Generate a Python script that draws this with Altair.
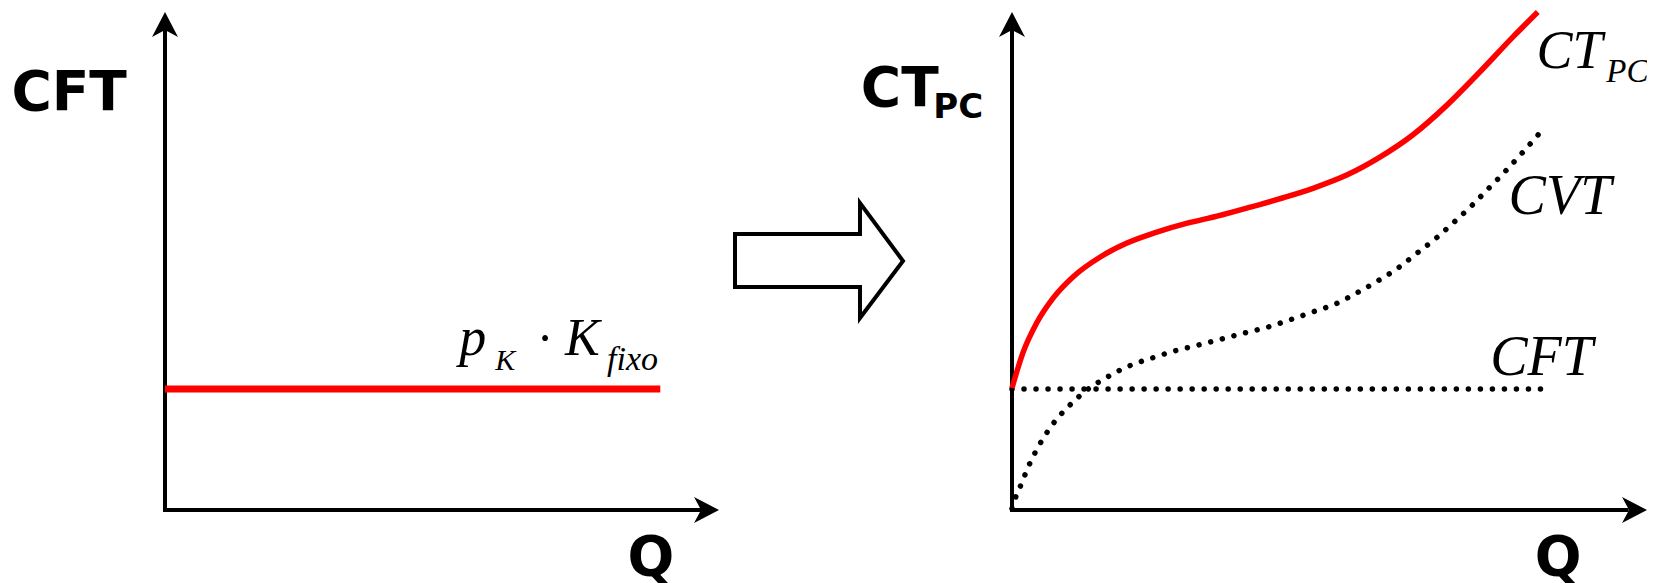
import altair as alt
import pandas as pd

# ---------------- data (diagram units: Q and cost, 0-100 along each drawn axis) ----------------
# left panel: fixed total cost  CFT = p_K * K_fixo
left_cft_q = [0, 89.4]
left_cft_c = [24.3, 24.3]

# right panel: CFT (dotted), CVT (dotted), CT_PC (red)
right_cft_q = [0, 83.5]
right_cft_c = [24.3, 24.3]

cvt_q = [0, 0.47, 1.26, 2.68, 4.41, 6.46, 8.98, 11.8, 15.0, 18.4, 22.0, 25.5, 29.3, 32.9,
         36.5, 40.2, 43.8, 47.4, 51.0, 54.3, 57.6, 60.8, 63.8, 66.8, 69.6, 72.3, 75.0,
         77.6, 80.2, 82.9]
cvt_c = [0.3, 2.2, 4.6, 9.0, 13.3, 17.3, 20.9, 24.1, 26.7, 28.9, 30.5, 31.9, 33.1, 34.3,
         35.5, 36.7, 38.2, 39.8, 41.4, 43.6, 46.0, 48.6, 51.6, 54.6, 57.8, 61.0, 64.5,
         67.9, 71.5, 75.4]

ct_q = [0, 1.7, 3.9, 6.5, 9.6, 13.9, 18.1, 22.8, 27.6, 32.3, 37.5, 42.7, 47.4, 52.8,
        58.0, 63.1, 68.5, 73.7, 78.9, 82.8]
ct_c = [24.5, 31.5, 37.6, 42.6, 46.8, 50.8, 53.6, 55.8, 57.6, 59.0, 60.8, 62.7, 64.6,
        67.3, 70.9, 75.3, 81.3, 88.0, 95.0, 100.0]

# block arrow between the panels (outline, in its own 0-100 units)
arrow_x = [0, 74.4, 74.4, 100, 74.4, 74.4, 0, 0]
arrow_y = [73, 73, 100, 49.6, 0, 27, 27, 73]

# axis extents (0-100) for each panel
axis_end = 100
axis_shaft = 96.8

# labels
left_bold_text = ["CFT", "Q"]
left_bold_q = [-17.3, 87.7]
left_bold_c = [80.3, -13.1]

right_bold_text = ["CT", "PC", "Q"]
right_bold_q = [-23.8, -12.4, 86.0]
right_bold_c = [81.1, 78.7, -13.1]

formula_text = ["p", "K", "·", "K", "fixo"]
formula_q = [53.1, 59.6, 68.6, 72.2, 79.8]
formula_c = [31.1, 28.1, 31.1, 31.1, 28.1]

right_it_text = ["CT", "PC", "CVT", "CFT"]
right_it_q = [82.6, 93.6, 78.2, 75.3]
right_it_c = [88.8, 85.9, 59.5, 27.1]

# ---------------- scales: each panel maps its units onto its area of the page ----------------
lx = alt.Scale(domain=[0, 100], range=[157, 711], zero=False, nice=False)
ly = alt.Scale(domain=[0, 100], range=[502, 4], zero=False, nice=False)
rx = alt.Scale(domain=[0, 100], range=[1004, 1639], zero=False, nice=False)
ry = alt.Scale(domain=[0, 100], range=[502, 4], zero=False, nice=False)
ax = alt.Scale(domain=[0, 100], range=[727, 895], zero=False, nice=False)
ay = alt.Scale(domain=[0, 100], range=[310, 195], zero=False, nice=False)

UP = "M0,0 L1,1.92 L0,1.38 L-1,1.92 Z"
RIGHT = "M0,0 L-1.92,-1 L-1.38,0 L-1.92,1 Z"
BOLD = "DejaVu Sans"
SERIF = "Liberation Serif"


def axes(sx, sy):
    v = alt.Chart(pd.DataFrame({"q": [0], "c": [0], "c2": [axis_shaft]})).mark_rule(
        color="black", strokeWidth=4, strokeCap="square").encode(
        x=alt.X("q:Q", scale=sx, axis=None),
        y=alt.Y("c:Q", scale=sy, axis=None), y2="c2:Q")
    h = alt.Chart(pd.DataFrame({"q": [0], "q2": [axis_shaft], "c": [0]})).mark_rule(
        color="black", strokeWidth=4, strokeCap="square").encode(
        x=alt.X("q:Q", scale=sx, axis=None), x2="q2:Q",
        y=alt.Y("c:Q", scale=sy, axis=None))
    up = alt.Chart(pd.DataFrame({"q": [0], "c": [axis_end]})).mark_point(
        shape=UP, size=676, filled=True, color="black", opacity=1, strokeWidth=0).encode(
        x=alt.X("q:Q", scale=sx, axis=None), y=alt.Y("c:Q", scale=sy, axis=None))
    rt = alt.Chart(pd.DataFrame({"q": [axis_end], "c": [0]})).mark_point(
        shape=RIGHT, size=676, filled=True, color="black", opacity=1, strokeWidth=0).encode(
        x=alt.X("q:Q", scale=sx, axis=None), y=alt.Y("c:Q", scale=sy, axis=None))
    return [v, h, up, rt]


def texts(sx, sy, txt, qs, cs, sizes, font, weight="normal", style="normal", align="left"):
    out = []
    for t, q, c, s in zip(txt, qs, cs, sizes):
        out.append(alt.Chart(pd.DataFrame({"q": [q], "c": [c], "t": [t]})).mark_text(
            font=font, fontSize=s, fontWeight=weight, fontStyle=style, align=align,
            baseline="alphabetic", color="black").encode(
            x=alt.X("q:Q", scale=sx, axis=None), y=alt.Y("c:Q", scale=sy, axis=None),
            text="t:N"))
    return out


def line(sx, sy, qs, cs, **kw):
    df = pd.DataFrame({"q": qs, "c": cs, "o": list(range(len(qs)))})
    return alt.Chart(df).mark_line(**kw).encode(
        x=alt.X("q:Q", scale=sx, axis=None), y=alt.Y("c:Q", scale=sy, axis=None),
        order="o:Q")


# ---------------- left panel ----------------
left = alt.layer(
    *axes(lx, ly),
    line(lx, ly, left_cft_q, left_cft_c, color="#ff0000", strokeWidth=7, strokeCap="butt"),
    *texts(lx, ly, left_bold_text, left_bold_q, left_bold_c, [55, 55], BOLD, weight="bold",
           align="center"),
    *texts(lx, ly, formula_text[:2], formula_q[:2], formula_c[:2], [54, 30], SERIF, style="italic"),
    *texts(lx, ly, formula_text[2:3], formula_q[2:3], formula_c[2:3], [50], SERIF, align="center"),
    *texts(lx, ly, formula_text[3:], formula_q[3:], formula_c[3:], [52, 34], SERIF, style="italic"),
)

# ---------------- arrow ----------------
arrow = line(ax, ay, arrow_x, arrow_y, color="black", strokeWidth=4, strokeJoin="miter",
             strokeCap="square")

# ---------------- right panel ----------------
right = alt.layer(
    *axes(rx, ry),
    line(rx, ry, right_cft_q, right_cft_c, color="black", strokeWidth=5.5, strokeCap="round",
         strokeDash=[0.01, 12]),
    line(rx, ry, cvt_q, cvt_c, color="black", strokeWidth=5.5, strokeCap="round",
         strokeDash=[0.01, 12], interpolate="monotone"),
    line(rx, ry, ct_q, ct_c, color="#ff0000", strokeWidth=5.5, strokeCap="butt",
         interpolate="monotone"),
    *texts(rx, ry, right_bold_text[:2], right_bold_q[:2], right_bold_c[:2], [55, 34], BOLD,
           weight="bold"),
    *texts(rx, ry, right_bold_text[2:], right_bold_q[2:], right_bold_c[2:], [55], BOLD,
           weight="bold", align="center"),
    *texts(rx, ry, right_it_text, right_it_q, right_it_c, [54, 33, 56, 56], SERIF, style="italic"),
)

chart = alt.layer(left, arrow, right).resolve_scale(
    x="independent", y="independent"
).properties(
    width=1639, height=575, autosize=alt.AutoSizeParams(type="none"), padding=0,
    background="white"
).configure_view(stroke=None)

chart.save("out.html", embed_options={"renderer": "svg", "actions": False})
